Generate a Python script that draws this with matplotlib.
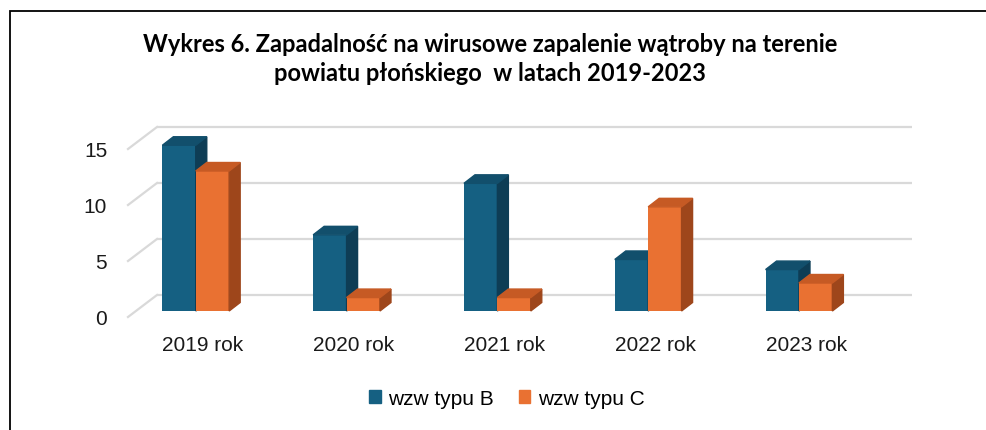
import matplotlib.pyplot as plt
from matplotlib.patches import Polygon, Rectangle
import numpy as np

categories = ["2019 rok", "2020 rok", "2021 rok", "2022 rok", "2023 rok"]
series_names = ["wzw typu B", "wzw typu C"]
wzw_b = [14.8, 6.8, 11.4, 4.6, 3.7]
wzw_c = [12.5, 1.2, 1.2, 9.3, 2.5]
yticks = [0, 5, 10, 15]

title = ("Wykres 6. Zapadalność na wirusowe zapalenie wątroby na terenie\n"
         "powiatu płońskiego  w latach 2019-2023")

# colours: front, top, side
col_b = ("#156082", "#124f6c", "#0e3d55")
col_c = ("#e97132", "#c65a24", "#9e461b")

W, H = 986, 431
fig = plt.figure(figsize=(W / 100, H / 100), dpi=100)

# axes placed so that front plane: value 0 at y=318px, 11.2 px/unit
px_unit_y = 11.2
px_unit_x = 150.8
x0_px = 128
y0_px = 318
xlim = (-0.397, 4.83)
ylim = (0, 17.0)
ax = fig.add_axes([x0_px / W, (H - y0_px) / H,
                   (xlim[1] - xlim[0]) * px_unit_x / W,
                   (ylim[1] - ylim[0]) * px_unit_y / H])
ax.set_xlim(*xlim)
ax.set_ylim(*ylim)
for s in ax.spines.values():
    s.set_visible(False)

# depth of the box (back wall offset) in data units
dx_wall = 29 / px_unit_x
dy_wall = 22 / px_unit_y
x_right_front = 4.61
grid_col = "#d9d9d9"
for v in yticks:
    ax.plot([xlim[0] + dx_wall, x_right_front + dx_wall], [v + dy_wall] * 2,
            color=grid_col, lw=1.6, zorder=1, clip_on=False, solid_capstyle="butt")
    ax.plot([xlim[0], xlim[0] + dx_wall], [v, v + dy_wall],
            color=grid_col, lw=1.6, zorder=1, clip_on=False)

# bars: front face at partial depth, bar depth offsets
ox, oy = 7.9 / px_unit_x, 6 / px_unit_y
bdx, bdy = 11 / px_unit_x, 8.5 / px_unit_y
bw = 33.4 / px_unit_x

x = np.arange(len(categories))
z = 3
for i in x:
    for vals, cols, sign in ((wzw_b, col_b, -1), (wzw_c, col_c, 0)):
        v = vals[i]
        left = i + ox + (sign * bw)
        right = left + bw
        ax.bar(left, v, width=bw, bottom=oy, align="edge", color=cols[0],
               zorder=z, clip_on=False)
        top = oy + v
        ax.add_patch(Polygon([(right, oy), (right + bdx, oy + bdy),
                              (right + bdx, top + bdy), (right, top)],
                             closed=True, color=cols[2], zorder=z, clip_on=False))
        ax.add_patch(Polygon([(left, top), (left + bdx, top + bdy),
                              (right + bdx, top + bdy), (right, top)],
                             closed=True, color=cols[1], zorder=z, clip_on=False))
        z += 1

ax.set_yticks(yticks)
ax.set_yticklabels([str(t) for t in yticks])
ax.set_xticks(x + 0.1)
ax.set_xticklabels(categories)
ax.tick_params(axis="both", length=0, labelsize=15, labelcolor="#1a1a1a")
ax.tick_params(axis="y", pad=15)
ax.tick_params(axis="x", pad=13)
for lab in ax.get_xticklabels() + ax.get_yticklabels():
    lab.set_fontfamily("Liberation Sans")

fig.text(0.497, 0.923, title, ha="center", va="top", fontsize=17,
         fontweight="bold", family="Lato", linespacing=1.3)

handles = [Rectangle((0, 0), 1, 1, color=col_b[0]), Rectangle((0, 0), 1, 1, color=col_c[0])]
fig.legend(handles, series_names, loc="center", bbox_to_anchor=(0.514, 0.073),
           ncol=2, frameon=False, handlelength=0.55, handleheight=0.55,
           handletextpad=0.35, columnspacing=1.2,
           prop={"family": "Liberation Sans", "size": 15})

fig.patches.append(Rectangle((10 / W, -0.1), 1.2, 1.1 - 12 / H, fill=False,
                             edgecolor="black", lw=1.3, transform=fig.transFigure,
                             figure=fig))

fig.savefig("out.png", dpi=100)
